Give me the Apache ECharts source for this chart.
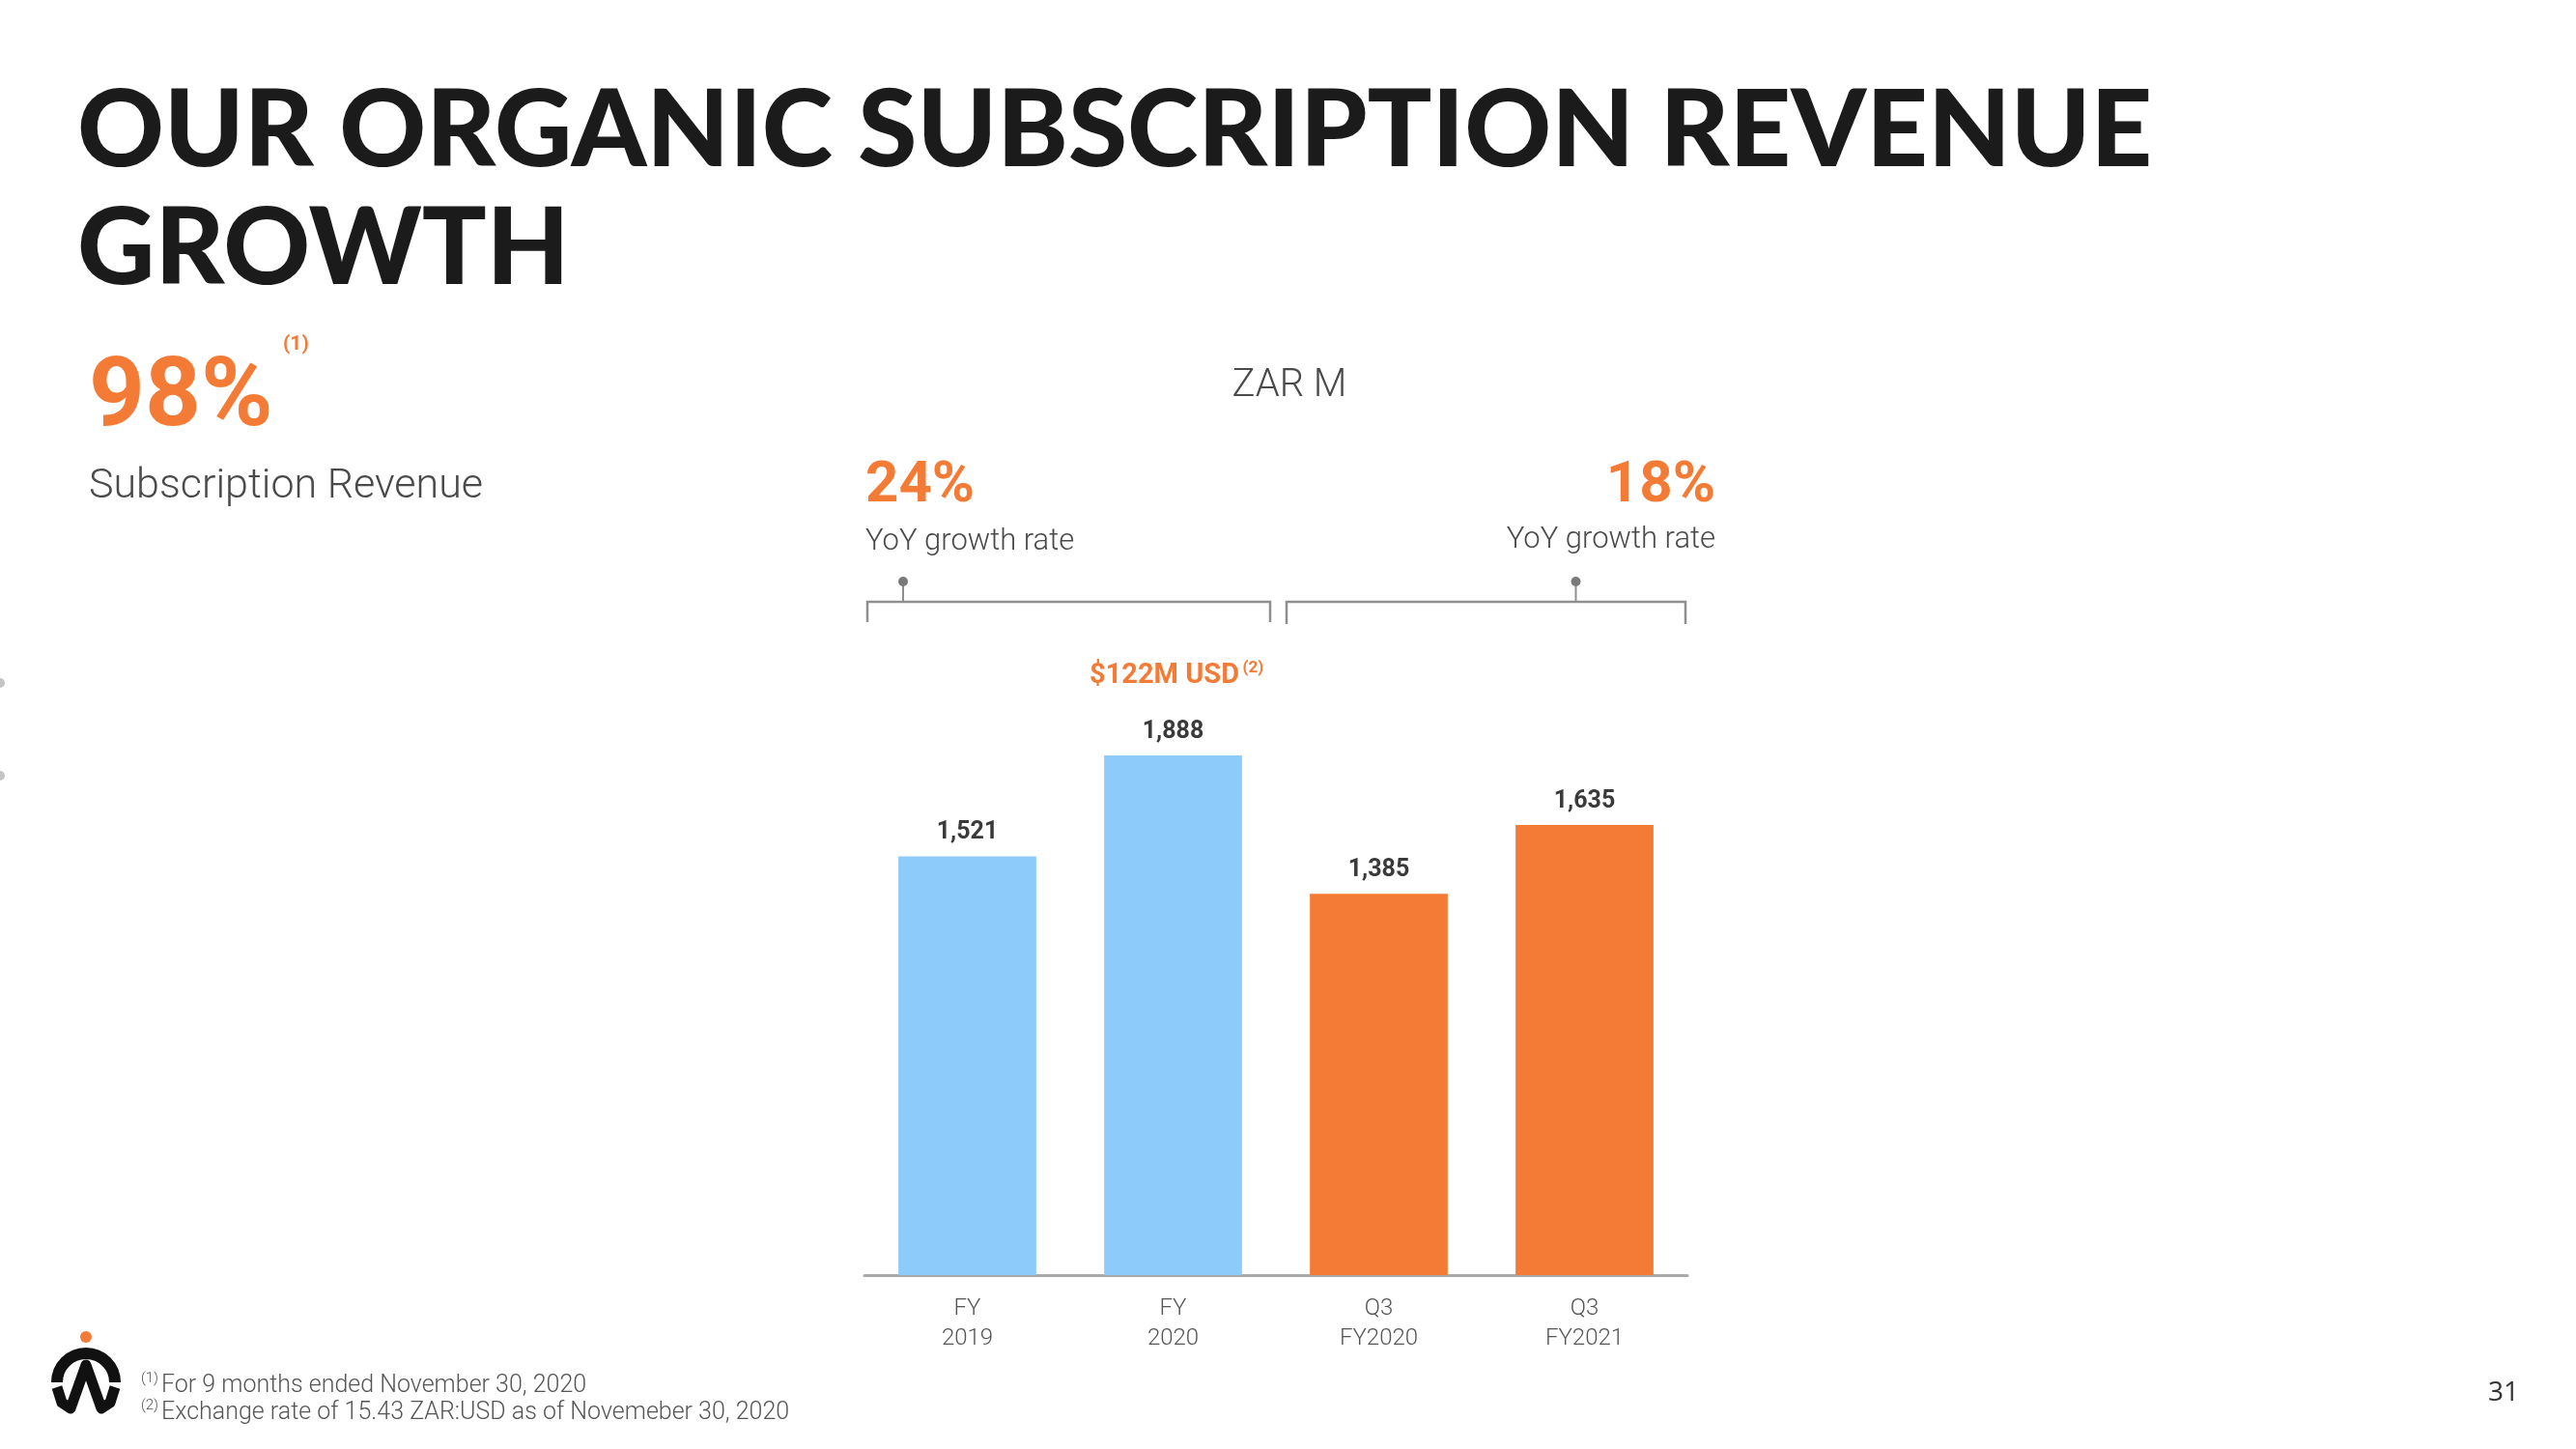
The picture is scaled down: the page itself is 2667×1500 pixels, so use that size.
<!DOCTYPE html>
<html>
<head>
<meta charset="utf-8">
<script src="https://cdn.jsdelivr.net/npm/echarts@6/dist/echarts.min.js"></script>
<style>
html,body{margin:0;padding:0;background:#fff;}
#c{width:2667px;height:1500px;}
</style>
</head>
<body>
<div id="c"></div>
<script>
// ---- data ----
const categories = ['FY\n2019', 'FY\n2020', 'Q3\nFY2020', 'Q3\nFY2021'];
const revenueZarM = [1521, 1888, 1385, 1635];
const periodKind = ['year', 'year', 'quarter', 'quarter'];
const growthRates = ['24%', '18%'];
const growthLabel = 'YoY growth rate';
const headlineGrowth = '98%';
const headlineLabel = 'Subscription Revenue';
const unitLabel = 'ZAR M';
const usdNote = '$122M USD';
const usdNoteIndex = 1;
const titleLines = ['OUR ORGANIC SUBSCRIPTION REVENUE', 'GROWTH'];
const footnotes = ['For 9 months ended November 30, 2020', 'Exchange rate of 15.43 ZAR:USD as of Novemeber 30, 2020'];
const pageNumber = '31';
const yMin = 0, yMax = 2000, yInterval = 500;

// ---- style ----
const ORANGE = '#F47B36';
const BLUE = '#8DCBFB';
const kindColor = { year: BLUE, quarter: ORANGE };
const GREY_TXT = '#4a4a4a';

const chart = echarts.init(document.getElementById('c'), null, { renderer: 'canvas' });

chart.setOption({
  backgroundColor: '#ffffff',
  animation: false,
  grid: { left: 895, right: 920, top: 750, bottom: 180, containLabel: false },
  xAxis: {
    type: 'category',
    data: categories,
    axisLine: { lineStyle: { color: '#aaaaaa', width: 3 } },
    axisTick: { show: false },
    axisLabel: {
      color: '#555555', fontSize: 24, lineHeight: 31, margin: 19,
      fontFamily: 'Roboto', fontWeight: 300
    }
  },
  yAxis: {
    type: 'value', min: yMin, max: yMax, interval: yInterval,
    show: false, splitLine: { show: false }
  },
  series: [{
    type: 'bar',
    barWidth: '67%',
    data: revenueZarM.map((v, i) => ({ value: v, itemStyle: { color: kindColor[periodKind[i]] } })),
    label: {
      show: true, position: 'top', distance: 12,
      color: '#3a3a3a', fontSize: 25, fontWeight: 'bold', fontFamily: 'Roboto',
      formatter: p => p.value.toLocaleString('en-US')
    }
  }]
});

// positions derived from the chart scales
const px = (i, v) => chart.convertToPixel({ gridIndex: 0 }, [i, v]);
const c0 = px(0, 0), c1 = px(1, 0), c2 = px(2, 0), c3 = px(3, 0);
const band = c1[0] - c0[0];
const leftEdge = c0[0] - band / 2;
const midEdge = c1[0] + band / 2;
const rightEdge = c3[0] + band / 2;
const bracketY = 623, bracketDrop = 21, pinTop = 602;
const GREY_LINE = '#8f8f8f';

const usdPos = px(usdNoteIndex, revenueZarM[usdNoteIndex]);

const graphic = [
  // title
  { type: 'text', style: { text: titleLines[0], x: 80, y: 136, font: '900 111px Lato', fill: '#1b1b1b', verticalAlign: 'middle' } },
  { type: 'text', style: { text: titleLines[1], x: 80, y: 258, font: '900 111px Lato', fill: '#1b1b1b', verticalAlign: 'middle' } },
  // headline
  { type: 'text', style: { text: headlineGrowth, x: 92, y: 415, font: 'bold 101px Roboto', fill: ORANGE, verticalAlign: 'middle' } },
  { type: 'text', style: { text: '(1)', x: 293, y: 357, font: 'bold 21px Roboto', fill: ORANGE, verticalAlign: 'middle' } },
  { type: 'text', style: { text: headlineLabel, x: 92, y: 504, font: '300 43px Roboto', fill: GREY_TXT, verticalAlign: 'middle' } },
  // unit
  { type: 'text', style: { text: unitLabel, x: (leftEdge + rightEdge) / 2 + 14, y: 400, font: '300 40px Roboto', fill: GREY_TXT, align: 'center', verticalAlign: 'middle' } },
  // growth rates
  { type: 'text', style: { text: growthRates[0], x: leftEdge + 1, y: 504, font: 'bold 60px Roboto', fill: ORANGE, verticalAlign: 'middle' } },
  { type: 'text', style: { text: growthLabel, x: leftEdge + 1, y: 561, font: '300 31px Roboto', fill: GREY_TXT, verticalAlign: 'middle' } },
  { type: 'text', style: { text: growthRates[1], x: rightEdge + 29, y: 504, font: 'bold 60px Roboto', fill: ORANGE, align: 'right', verticalAlign: 'middle' } },
  { type: 'text', style: { text: growthLabel, x: rightEdge + 29, y: 559, font: '300 31px Roboto', fill: GREY_TXT, align: 'right', verticalAlign: 'middle' } },
  // brackets
  { type: 'polyline', shape: { points: [[leftEdge + 3, bracketY + bracketDrop], [leftEdge + 3, bracketY], [midEdge - 6, bracketY], [midEdge - 6, bracketY + bracketDrop]] }, style: { stroke: GREY_LINE, lineWidth: 2.5, fill: null } },
  { type: 'polyline', shape: { points: [[midEdge + 11, bracketY + bracketDrop + 2], [midEdge + 11, bracketY], [rightEdge - 2, bracketY], [rightEdge - 2, bracketY + bracketDrop + 2]] }, style: { stroke: GREY_LINE, lineWidth: 2.5, fill: null } },
  { type: 'line', shape: { x1: leftEdge + 40, y1: pinTop, x2: leftEdge + 40, y2: bracketY }, style: { stroke: GREY_LINE, lineWidth: 2 } },
  { type: 'circle', shape: { cx: leftEdge + 40, cy: pinTop, r: 5 }, style: { fill: '#7a7a7a' } },
  { type: 'line', shape: { x1: c3[0] - 9, y1: pinTop, x2: c3[0] - 9, y2: bracketY }, style: { stroke: GREY_LINE, lineWidth: 2 } },
  { type: 'circle', shape: { cx: c3[0] - 9, cy: pinTop, r: 5 }, style: { fill: '#7a7a7a' } },
  // USD note
  { type: 'text', style: { text: usdNote, x: usdPos[0] - 9, y: 700, font: 'bold 29px Roboto', fill: ORANGE, align: 'center', verticalAlign: 'middle' } },
  { type: 'text', style: { text: '(2)', x: usdPos[0] + 72, y: 692, font: 'bold 17px Roboto', fill: ORANGE, verticalAlign: 'middle' } },
  // footnotes
  { type: 'text', style: { text: '(1)', x: 146, y: 1427, font: '300 15px Roboto', fill: '#555', verticalAlign: 'middle' } },
  { type: 'text', style: { text: footnotes[0], x: 167, y: 1435, font: '300 25px Roboto', fill: '#555', verticalAlign: 'middle' } },
  { type: 'text', style: { text: '(2)', x: 146, y: 1455, font: '300 15px Roboto', fill: '#555', verticalAlign: 'middle' } },
  { type: 'text', style: { text: footnotes[1], x: 167, y: 1463, font: '300 25px Roboto', fill: '#555', verticalAlign: 'middle' } },
  // page number
  { type: 'text', style: { text: pageNumber, x: 2592, y: 1442, font: '28px "Open Sans"', fill: '#333', align: 'center', verticalAlign: 'middle' } },
  // logo
  { type: 'circle', shape: { cx: 89, cy: 1384, r: 6 }, style: { fill: ORANGE } },
  { type: 'arc', shape: { cx: 89, cy: 1431, r: 30, startAngle: Math.PI, endAngle: 2 * Math.PI }, style: { stroke: '#111', lineWidth: 12, fill: null } },
  { type: 'polyline', shape: { points: [[59, 1436], [64, 1452], [73, 1458], [89, 1413], [105, 1458], [114, 1452], [119, 1436]] }, style: { stroke: '#111', lineWidth: 11, fill: null, lineJoin: 'round' } },
  // page edge marks
  { type: 'circle', shape: { cx: 0, cy: 707, r: 5 }, style: { fill: '#c4c4c4' } },
  { type: 'circle', shape: { cx: 0, cy: 803, r: 5 }, style: { fill: '#c4c4c4' } }
];

chart.setOption({ graphic: graphic });
</script>
</body>
</html>
